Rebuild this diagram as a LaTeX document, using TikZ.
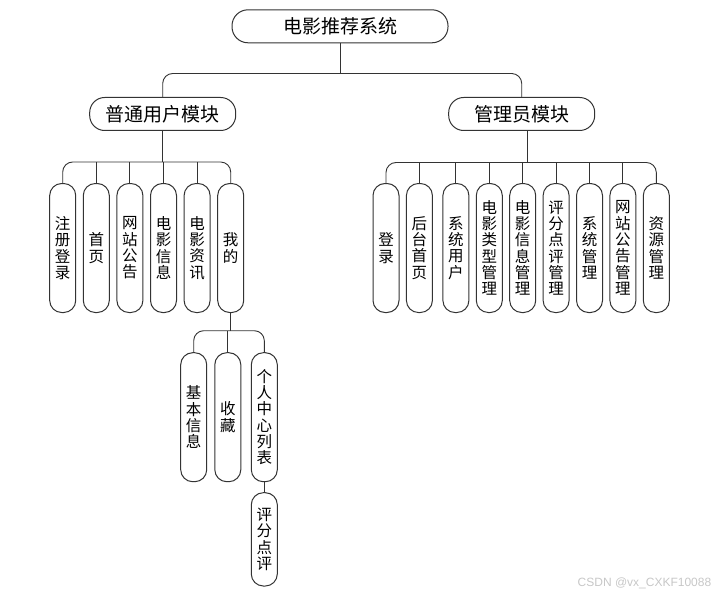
\documentclass[tikz,border=0pt]{standalone}
\usepackage{fontspec}
\setmainfont{Noto Sans CJK SC}
\newfontfamily\markfont{Liberation Sans}
\usetikzlibrary{positioning}

\begin{document}
\begin{tikzpicture}[
        x=1pt, y=-1pt,
        rootbox/.style={rectangle, draw=black!80, line width=1pt, rounded corners=16pt, minimum width=216pt, minimum height=33pt, inner sep=0pt, font=\fontsize{19}{22}\selectfont},
        modbox/.style={rectangle, draw=black!80, line width=1pt, rounded corners=15pt, minimum width=146pt, minimum height=33pt, inner sep=0pt, font=\fontsize{19}{22}\selectfont},
        leaf/.style={rectangle, draw=black!80, line width=1pt, rounded corners=12pt, minimum width=26pt, minimum height=129pt, inner sep=0pt, align=center, font=\fontsize{15.5}{16.3}\selectfont},
        link/.style={draw=black!80, line width=0.9pt, rounded corners=10pt}
    ]
        \useasboundingbox (0,0) rectangle (727,596);

% Root and modules
        \node[rootbox] (root) at (340,26.3) {电影推荐系统};
        \node[modbox] (user) at (162.7,114) {普通用户模块};
        \node[modbox] (admin) at (521.7,114) {管理员模块};

% User row
        \node[leaf] (u1) at (62.7,248) {注\\册\\登\\录};
        \node[leaf, right=6.6pt of u1] (u2) {首\\页};
        \node[leaf, right=6.6pt of u2] (u3) {网\\站\\公\\告};
        \node[leaf, right=6.6pt of u3] (u4) {电\\影\\信\\息};
        \node[leaf, right=6.6pt of u4] (u5) {电\\影\\资\\讯};
        \node[leaf, right=6.6pt of u5] (u6) {我\\的};

% Mine row
        \node[leaf] (s1) at (193.7,417.2) {基\\本\\信\\息};
        \node[leaf, right=7.1pt of s1] (s2) {收\\藏};
        \node[leaf, right=9.5pt of s2] (s3) {个\\人\\中\\心\\列\\表};
        \node[leaf, below=10pt of s3, minimum height=93.3pt] (s4) {评\\分\\点\\评};

% Admin row
        \node[leaf] (a1) at (386,248) {登\\录};
        \node[leaf, right=6.4pt of a1] (a2) {后\\台\\首\\页};
        \node[leaf, right=9.5pt of a2] (a3) {系\\统\\用\\户};
        \node[leaf, right=6.4pt of a3] (a4) {电\\影\\类\\型\\管\\理};
        \node[leaf, right=6.4pt of a4] (a5) {电\\影\\信\\息\\管\\理};
        \node[leaf, right=6.4pt of a5] (a6) {评\\分\\点\\评\\管\\理};
        \node[leaf, right=6.4pt of a6] (a7) {系\\统\\管\\理};
        \node[leaf, right=6.4pt of a7] (a8) {网\\站\\公\\告\\管\\理};
        \node[leaf, right=6.4pt of a8] (a9) {资\\源\\管\\理};

        \node[font=\markfont\fontsize{12}{14}\selectfont, text=black!22] (mark) at (644.5,583) {CSDN @vx\_CXKF10088};

% Bus lines
        \coordinate (tbus) at (0,73.5);
        \coordinate (ubus) at (0,162);
        \coordinate (abus) at (0,162.5);
        \coordinate (mbus) at (0,330.7);

% Connectors: root
        \draw[link] (root.south) -- (root.south |- tbus);
        \draw[link] (user.north) |- (root.south |- tbus) -| (admin.north);

% Connectors: user
        \draw[link] (user.south) -- (user.south |- ubus);
        \draw[link] (u1.north) |- (user.south |- ubus) -| (u6.north);
        \draw[link] (u2.north) -- (u2.north |- ubus);
        \draw[link] (u3.north) -- (u3.north |- ubus);
        \draw[link] (u4.north) -- (u4.north |- ubus);
        \draw[link] (u5.north) -- (u5.north |- ubus);

% Connectors: mine
        \draw[link] (u6.south) -- (u6.south |- mbus);
        \draw[link] (s1.north) |- (u6.south |- mbus) -| (s3.north);
        \draw[link] (s2.north) -- (s2.north |- mbus);
        \draw[link] (s3.south) -- (s4.north);

% Connectors: admin
        \draw[link] ([xshift=5.6pt]admin.south) -- ([xshift=5.6pt]admin.south |- abus);
        \draw[link] (a1.north) |- ([xshift=5.6pt]admin.south |- abus) -| (a9.north);
        \draw[link] (a2.north) -- (a2.north |- abus);
        \draw[link] (a3.north) -- (a3.north |- abus);
        \draw[link] (a4.north) -- (a4.north |- abus);
        \draw[link] (a5.north) -- (a5.north |- abus);
        \draw[link] (a6.north) -- (a6.north |- abus);
        \draw[link] (a7.north) -- (a7.north |- abus);
        \draw[link] (a8.north) -- (a8.north |- abus);
    \end{tikzpicture}
\end{document}
